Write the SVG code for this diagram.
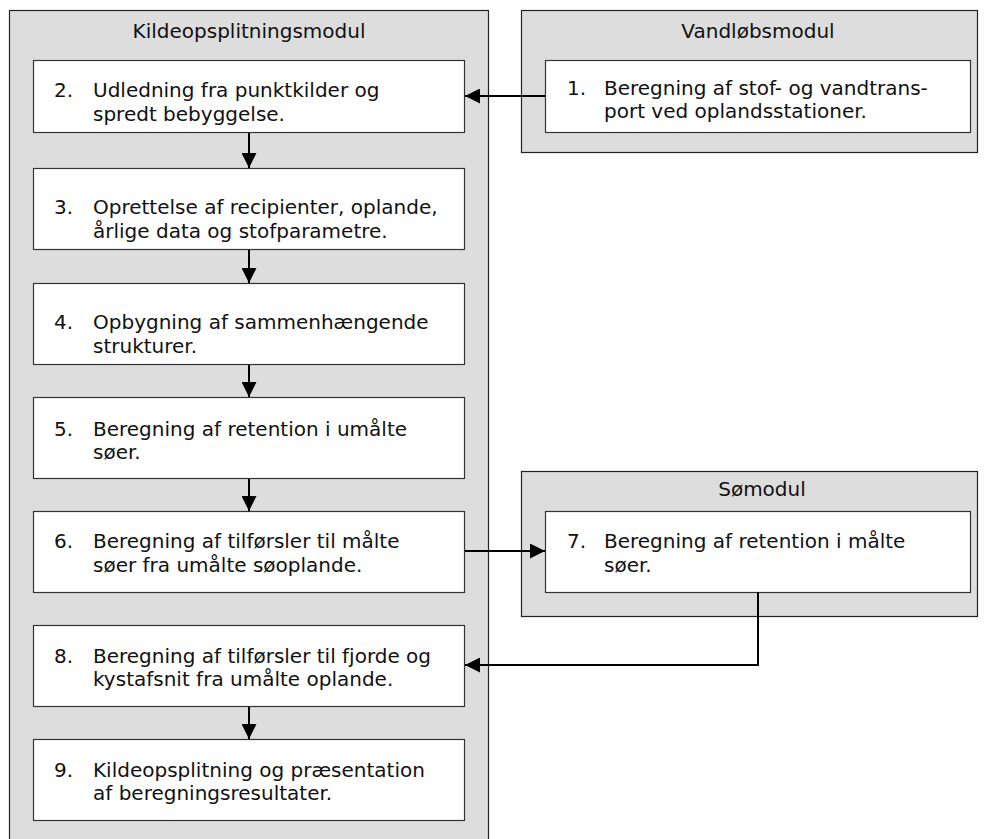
<svg xmlns="http://www.w3.org/2000/svg" width="990" height="839" viewBox="0 0 990 839">
<style>
.cont{fill:#dddddd;stroke:#222;stroke-width:1.2}
.box{fill:#ffffff;stroke:#333;stroke-width:1.2}
text{font-family:"DejaVu Sans","Verdana",sans-serif;font-size:20px;fill:#111}
.t{text-anchor:middle}
.ln{fill:none;stroke:#000;stroke-width:2}
</style>
<defs>
<marker id="ah" viewBox="0 0 10 10" refX="10" refY="5" markerWidth="7.5" markerHeight="7.5" markerUnits="strokeWidth" orient="auto">
<path d="M0,0 L10,5 L0,10 Z" fill="#000"/>
</marker>
</defs>
<g id="kildeopsplitningsmodul">
<rect class="cont" x="9.5" y="10.5" width="479" height="840"/>
<text class="t" x="249" y="38">Kildeopsplitningsmodul</text>
</g>
<g id="vandlobsmodul">
<rect class="cont" x="521.5" y="10.5" width="456" height="142"/>
<text class="t" x="758" y="38">Vandløbsmodul</text>
</g>
<g id="somodul">
<rect class="cont" x="521.5" y="471.5" width="456" height="145"/>
<text class="t" x="762" y="496">Sømodul</text>
</g>
<g id="n1">
<rect class="box" x="545.5" y="60.5" width="425" height="72"/>
<text x="567" y="95">1.</text>
<text x="604" y="95">Beregning af stof- og vandtrans-</text>
<text x="604" y="118">port ved oplandsstationer.</text>
</g>
<g id="n2">
<rect class="box" x="33.5" y="60.5" width="431" height="72"/>
<text x="54" y="97">2.</text>
<text x="93" y="97">Udledning fra punktkilder og</text>
<text x="93" y="121">spredt bebyggelse.</text>
</g>
<g id="n3">
<rect class="box" x="33.5" y="168.5" width="431" height="81"/>
<text x="54" y="214">3.</text>
<text x="93" y="214">Oprettelse af recipienter, oplande,</text>
<text x="93" y="238">årlige data og stofparametre.</text>
</g>
<g id="n4">
<rect class="box" x="33.5" y="283.5" width="431" height="81"/>
<text x="54" y="329">4.</text>
<text x="93" y="329">Opbygning af sammenhængende</text>
<text x="93" y="353">strukturer.</text>
</g>
<g id="n5">
<rect class="box" x="33.5" y="397.5" width="431" height="81"/>
<text x="54" y="436">5.</text>
<text x="93" y="436">Beregning af retention i umålte</text>
<text x="93" y="459">søer.</text>
</g>
<g id="n6">
<rect class="box" x="33.5" y="511.5" width="431" height="81"/>
<text x="54" y="548">6.</text>
<text x="93" y="548">Beregning af tilførsler til målte</text>
<text x="93" y="572">søer fra umålte søoplande.</text>
</g>
<g id="n7">
<rect class="box" x="545.5" y="511.5" width="425" height="81"/>
<text x="567" y="548">7.</text>
<text x="604" y="548">Beregning af retention i målte</text>
<text x="604" y="572">søer.</text>
</g>
<g id="n8">
<rect class="box" x="33.5" y="625.5" width="431" height="81"/>
<text x="54" y="663">8.</text>
<text x="93" y="663">Beregning af tilførsler til fjorde og</text>
<text x="93" y="686">kystafsnit fra umålte oplande.</text>
</g>
<g id="n9">
<rect class="box" x="33.5" y="739.5" width="431" height="81"/>
<text x="54" y="777">9.</text>
<text x="93" y="777">Kildeopsplitning og præsentation</text>
<text x="93" y="800">af beregningsresultater.</text>
</g>
<g id="connectors">
<path class="ln" d="M545,96 L465,96" marker-end="url(#ah)"/>
<path class="ln" d="M249,133 L249,168" marker-end="url(#ah)"/>
<path class="ln" d="M249,250 L249,283" marker-end="url(#ah)"/>
<path class="ln" d="M249,365 L249,397" marker-end="url(#ah)"/>
<path class="ln" d="M249,479 L249,511" marker-end="url(#ah)"/>
<path class="ln" d="M465,551 L545,551" marker-end="url(#ah)"/>
<path class="ln" d="M758,592 L758,665 L465,665" marker-end="url(#ah)"/>
<path class="ln" d="M249,707 L249,739" marker-end="url(#ah)"/>
</g>
</svg>
